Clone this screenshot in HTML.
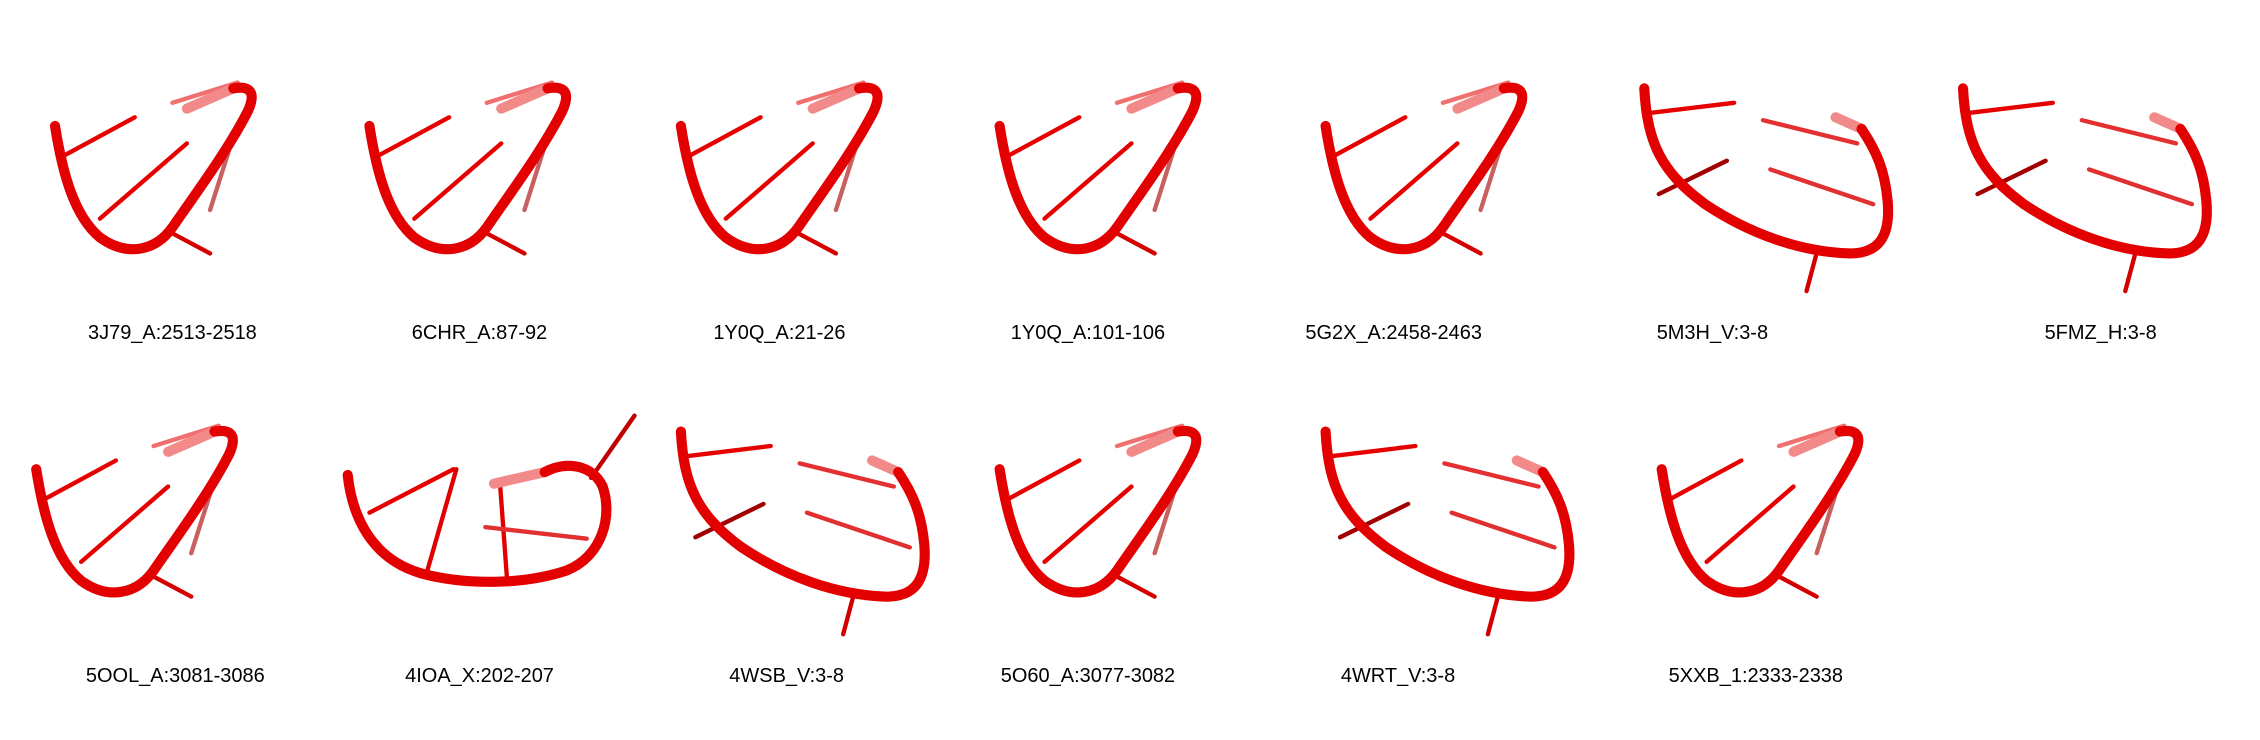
<!DOCTYPE html>
<html><head><meta charset="utf-8"><style>
html,body{margin:0;padding:0;background:#fff;width:2260px;height:740px;overflow:hidden}
svg{display:block}
text{font-family:"Liberation Sans",Arial,sans-serif;font-size:13.8px;fill:#000}
</style></head><body>
<svg id="fig" width="2260" height="740" viewBox="0 0 1560 511" preserveAspectRatio="none" xmlns="http://www.w3.org/2000/svg">
</svg>
<script>
const labels=["3J79_A:2513-2518","6CHR_A:87-92","1Y0Q_A:21-26","1Y0Q_A:101-106","5G2X_A:2458-2463","5M3H_V:3-8","5FMZ_H:3-8","5OOL_A:3081-3086","4IOA_X:202-207","4WSB_V:3-8","5O60_A:3077-3082","4WRT_V:3-8","5XXB_1:2333-2338"];
const labelX=[119,331,538,751,962,1182,1450,121,331,543,751,965,1212];
const labelY=[229,229,229,229,229,229,229,466,466,466,466,466,466];
const shapeType=["A","A","A","A","A","B","B","A","C","B","A","B","A"];
const shapeDX=[0,5,13,20,34,-45,-93,-15,0,-71,20,-48,16];

const svg=document.getElementById('fig');
const NS="http://www.w3.org/2000/svg";
const shapes={
 A:{bb:"M -81,-142 C -76,-110 -68,-80 -50,-65 C -32,-52 -12,-55 0,-72 C 18,-98 38,-125 52,-152 C 58,-165 54,-170 42,-168",
    fadeTail:"M 42,-168 L 10,-154",
    rungs:[[-74,-122,-26,-148,"#e60000"],[-50,-78,10,-130,"#e60000"],[-4,-70,26,-54,"#d40000"],[26,-84,40,-128,"#c86060"],[0,-158,45,-172,"#f07070"]]},
 B:{bb:"M -2,-168 C 0,-130 10,-110 40,-88 C 70,-68 105,-55 140,-54 C 160,-54 168,-66 166,-90 C 164,-112 158,-125 148,-140",
    fadeTail:"M 148,-140 L 130,-148",
    rungs:[[2,-151,60,-158,"#e60000"],[80,-146,145,-130,"#e43030"],[85,-112,156,-88,"#e03030"],[8,-95,55,-118,"#a00000"],[118,-58,110,-28,"#d40000"]]},
 C:{bb:"M -91,-138 C -88,-110 -75,-80 -40,-70 C -10,-62 30,-62 60,-72 C 85,-82 92,-110 85,-130 C 78,-145 60,-148 45,-140",
    fadeTail:"M 45,-140 L 10,-132",
    rungs:[[-76,-112,-18,-142,"#e60000"],[-36,-72,-16,-142,"#e00000"],[19,-66,14,-134,"#e00000"],[4,-102,74,-94,"#e03030"],[77,-136,107,-179,"#c00000"]]}
};
labels.forEach((lab,i)=>{
 const g=document.createElementNS(NS,'g');
 
 
 g.setAttribute('transform','translate('+(labelX[i]+shapeDX[i])+','+labelY[i]+')');
 const s=shapes[shapeType[i]];
 s.rungs.forEach(r=>{
  const l=document.createElementNS(NS,'line');
  
  
  l.setAttribute('x1',r[0]);l.setAttribute('y1',r[1]);l.setAttribute('x2',r[2]);l.setAttribute('y2',r[3]);
  l.setAttribute('stroke',r[4]);l.setAttribute('stroke-width','3');l.setAttribute('stroke-linecap','round');
  g.appendChild(l);
 });
 const ft=document.createElementNS(NS,'path');
 
 
 ft.setAttribute('d',s.fadeTail);ft.setAttribute('fill','none');ft.setAttribute('stroke','#f28a8a');ft.setAttribute('stroke-width','7');ft.setAttribute('stroke-linecap','round');
 g.appendChild(ft);
 const p=document.createElementNS(NS,'path');
 
 
 p.setAttribute('d',s.bb);p.setAttribute('fill','none');p.setAttribute('stroke','#e30000');p.setAttribute('stroke-width','7');p.setAttribute('stroke-linecap','round');
 g.appendChild(p);
 svg.appendChild(g);
 const t=document.createElementNS(NS,'text');
 
 
 t.setAttribute('x',labelX[i]);t.setAttribute('y',labelY[i]+5);t.setAttribute('text-anchor','middle');
 t.textContent=lab;
 svg.appendChild(t);
});
</script>
</body></html>
